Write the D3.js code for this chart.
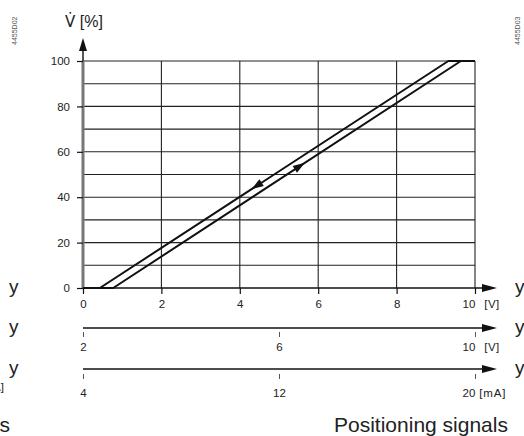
<!DOCTYPE html>
<html>
<head>
<meta charset="utf-8">
<script src="https://cdn.jsdelivr.net/npm/d3@7"></script>
<style>
  html, body { margin: 0; padding: 0; background: #fff; }
  svg { display: block; font-family: "Liberation Sans", Arial, sans-serif; }
</style>
</head>
<body>
<svg id="chart" width="524" height="436"></svg>
<script>
// Flow V̇ [%] versus positioning signal (two branches: opening / closing)
const yTicks = [0, 20, 40, 60, 80, 100];
const yGrid = [10, 20, 30, 40, 50, 60, 70, 80, 90, 100];
const xTicksV = [0, 2, 4, 6, 8, 10];
const xTicksV2 = [2, 6, 10];
const xTicksMA = [4, 12, 20];

// signal [V] -> flow [%]
const closingCurve = [[0, 0], [0.43, 0], [9.32, 100], [10, 100]];
const openingCurve = [[0, 0], [0.77, 0], [9.64, 100], [10, 100]];
// direction arrows on each branch (signal value of the tip)
const closingArrowAt = 4.3;
const openingArrowAt = 5.66;

const svg = d3.select("#chart");
const x = d3.scaleLinear().domain([0, 10]).range([83, 475]);
const x2 = d3.scaleLinear().domain([2, 10]).range([83, 475]);
const x3 = d3.scaleLinear().domain([4, 20]).range([83, 475]);
const y = d3.scaleLinear().domain([0, 100]).range([288, 61]);

const ink = "#111";
const textCol = "#222";
const tickFont = 11.5;

// grid
svg.append("g").selectAll("line").data(yGrid).join("line")
  .attr("x1", x(0)).attr("x2", x(10))
  .attr("y1", d => y(d)).attr("y2", d => y(d))
  .attr("stroke", "#222").attr("stroke-width", 1.1);
svg.append("g").selectAll("line").data(xTicksV.slice(1)).join("line")
  .attr("x1", d => x(d)).attr("x2", d => x(d))
  .attr("y1", y(0)).attr("y2", y(100))
  .attr("stroke", "#222").attr("stroke-width", 1.1);

// y axis
svg.append("line").attr("x1", x(0)).attr("x2", x(0)).attr("y1", y(0)).attr("y2", y(100))
  .attr("stroke", "#777").attr("stroke-width", 3);
svg.append("line").attr("x1", x(0)).attr("x2", x(0)).attr("y1", y(100)).attr("y2", 48)
  .attr("stroke", ink).attr("stroke-width", 1.4);
svg.append("path").attr("d", `M${x(0)},38 L${x(0) - 4},51 L${x(0) + 4},51 Z`).attr("fill", ink);

const yAxis = svg.append("g").attr("transform", `translate(${x(0)},0)`)
  .call(d3.axisLeft(y).tickValues(yTicks).tickSize(6).tickPadding(7));
yAxis.select(".domain").remove();
yAxis.selectAll(".tick line").attr("stroke", ink).attr("stroke-width", 1.2);
yAxis.selectAll("text").attr("font-size", tickFont).attr("fill", textCol)
  .attr("font-family", "Liberation Sans, Arial, sans-serif");

// horizontal signal axes with arrows
function arrowAxis(yPos) {
  svg.append("line").attr("x1", x(0)).attr("x2", 486).attr("y1", yPos).attr("y2", yPos)
    .attr("stroke", ink).attr("stroke-width", 1.4);
  svg.append("path").attr("d", `M497,${yPos} L482,${yPos - 4} L482,${yPos + 4} Z`).attr("fill", ink);
}

function signalAxis(scale, ticks, yPos, unit, gapTop, tickLen, labelPad, unitDx) {
  const last = ticks[ticks.length - 1];
  const g = svg.append("g").attr("transform", `translate(0,${yPos})`)
    .call(d3.axisBottom(scale).tickValues(ticks).tickSize(tickLen).tickPadding(labelPad)
      .tickFormat(d => d));
  g.select(".domain").remove();
  g.selectAll(".tick line").attr("y1", gapTop)
    .attr("stroke", gapTop > 0 ? "#555" : ink).attr("stroke-width", gapTop > 0 ? 1 : 1.2);
  g.selectAll("text").attr("font-size", tickFont).attr("fill", textCol)
    .attr("font-family", "Liberation Sans, Arial, sans-serif");
  // unit appended to the last tick label
  const lastText = g.selectAll(".tick").filter(d => d === last).select("text");
  lastText.append("tspan").attr("dx", unitDx).attr("letter-spacing", unit === "[mA]" ? 0.8 : 0.4)
    .text(unit);
  lastText.attr("text-anchor", "start").attr("dx", -13);
  arrowAxis(yPos);
}

signalAxis(x, xTicksV, 288, "[V]", 0, 6, 6, 9);
signalAxis(x2, xTicksV2, 328, "[V]", 4, 9, 6, 9);
signalAxis(x3, xTicksMA, 369, "[mA]", 5, 10, 10, 4);

// flow curves
const line = d3.line().x(d => x(d[0])).y(d => y(d[1]));
[closingCurve, openingCurve].forEach(c => {
  svg.append("path").datum(c).attr("d", line)
    .attr("fill", "none").attr("stroke", ink).attr("stroke-width", 2)
    .attr("stroke-linejoin", "round");
});

// value on a curve for a given signal
function curveAt(curve, v) {
  for (let i = 1; i < curve.length; i++) {
    const [a, b] = [curve[i - 1], curve[i]];
    if (v >= a[0] && v <= b[0]) return a[1] + (b[1] - a[1]) * (v - a[0]) / (b[0] - a[0]);
  }
  return 0;
}
function dirArrow(curve, v, forward) {
  const tip = [x(v), y(curveAt(curve, v))];
  const dv = forward ? -0.1 : 0.1;
  const back = [x(v + dv), y(curveAt(curve, v + dv))];
  const ang = Math.atan2(tip[1] - back[1], tip[0] - back[0]);
  const L = 12, W = 4;
  const bx = tip[0] - L * Math.cos(ang), by = tip[1] - L * Math.sin(ang);
  const px = -Math.sin(ang) * W, py = Math.cos(ang) * W;
  svg.append("path")
    .attr("d", `M${tip[0]},${tip[1]} L${bx + px},${by + py} L${bx - px},${by - py} Z`)
    .attr("fill", ink);
}
dirArrow(closingCurve, closingArrowAt, false);
dirArrow(openingCurve, openingArrowAt, true);

// axis title: V with combining dot above (volume flow)
svg.append("text").attr("x", 65).attr("y", 27).attr("font-size", 16).attr("fill", textCol)
  .attr("font-family", "DejaVu Sans, sans-serif")
  .append("tspan").attr("font-size", 15).text("V\u0307")
  .select(function () { return this.parentNode; })
  .append("tspan").attr("font-family", "Liberation Sans, Arial, sans-serif").text(" [%]");

svg.append("text").attr("x", 334).attr("y", 432).attr("font-size", 21).attr("fill", textCol)
  .text("Positioning signals");
svg.append("text").attr("x", 10).attr("y", 432).attr("font-size", 21).attr("fill", textCol)
  .attr("text-anchor", "end").text("Positioning signals");
svg.append("text").attr("x", 4).attr("y", 391).attr("font-size", tickFont).attr("fill", textCol)
  .attr("text-anchor", "end").text("20 [mA]");

// y labels at the ends of the signal axes
[293, 333, 374].forEach(b => {
  svg.append("text").attr("x", 9).attr("y", b).attr("font-size", 19).attr("fill", textCol).text("y");
  svg.append("text").attr("x", 515).attr("y", b).attr("font-size", 19).attr("fill", textCol).text("y");
});

// drawing numbers
svg.append("text").attr("transform", "translate(17,45) rotate(-90)")
  .attr("font-size", 7).attr("fill", "#555").text("4455D02");
svg.append("text").attr("transform", "translate(520,45) rotate(-90)")
  .attr("font-size", 7).attr("fill", "#555").text("4455D03");
</script>
</body>
</html>
